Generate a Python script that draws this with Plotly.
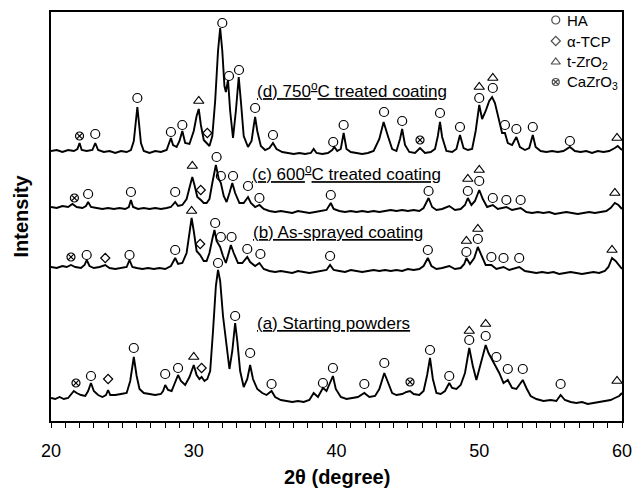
import plotly.graph_objects as go

# ---------------- data (2theta in degrees, intensity in arbitrary stacked units) -------------
d_theta = [20.0,20.4,20.8,21.2,21.6,21.85,22.0,22.15,22.5,22.9,23.1,23.3,23.7,24.1,24.5,24.9,25.3,25.6,25.8,25.95,26.05,26.15,26.3,26.5,26.9,27.3,27.7,28.1,28.3,28.4,28.55,28.8,29.0,29.2,29.4,29.7,30.0,30.2,30.35,30.5,30.7,30.9,31.1,31.3,31.5,31.7,31.85,32.0,32.15,32.25,32.4,32.55,32.75,32.95,33.15,33.3,33.5,33.8,34.05,34.2,34.3,34.45,34.7,35.0,35.3,35.55,35.8,36.2,36.6,37.0,37.4,37.8,38.2,38.4,38.6,39.0,39.4,39.7,39.85,40.05,40.3,40.5,40.7,41.0,41.4,41.8,42.2,42.6,43.0,43.3,43.6,43.9,44.2,44.45,44.6,44.8,45.1,45.5,45.85,46.2,46.6,46.9,47.1,47.25,47.4,47.7,48.1,48.4,48.65,48.9,49.2,49.5,49.75,50.0,50.2,50.45,50.7,50.9,51.1,51.4,51.6,51.8,52.0,52.3,52.6,52.85,53.2,53.5,53.75,53.95,54.3,54.7,55.1,55.5,55.9,56.35,56.7,57.1,57.5,57.9,58.3,58.7,59.1,59.5,59.7,60.0]
d_int = [270,271,269,271,270,272,278,271,270,271,278,271,269,270,268,270,269,271,280,300,314,300,278,270,268,270,269,271,278,283,276,274,280,290,278,277,290,305,312,296,281,278,275,285,320,370,393,370,335,329,341,310,283,310,344,320,285,274,280,295,304,290,275,271,273,278,272,269,268,267,268,267,268,272,268,267,268,271,274,270,272,288,272,269,268,267,268,270,282,299,285,272,270,282,292,276,269,268,273,268,269,272,285,299,284,270,269,272,286,273,271,272,290,316,302,310,320,324,318,300,288,288,278,276,284,274,271,273,286,274,270,269,270,269,270,274,270,269,270,268,270,269,270,273,275,271]

c_theta = [20.0,20.4,20.8,21.2,21.5,21.8,22.2,22.45,22.6,22.8,23.2,23.6,24.0,24.4,24.8,25.2,25.45,25.6,25.75,26.1,26.5,26.9,27.3,27.7,28.1,28.4,28.7,28.9,29.2,29.5,29.75,29.9,30.05,30.25,30.5,30.7,30.9,31.1,31.3,31.55,31.75,31.9,32.1,32.3,32.5,32.7,32.9,33.2,33.5,33.8,34.0,34.3,34.6,34.9,35.3,35.7,36.1,36.5,36.9,37.3,37.7,38.1,38.5,38.9,39.3,39.6,39.8,40.2,40.6,41.0,41.4,41.8,42.2,42.6,43.0,43.4,43.8,44.2,44.6,45.0,45.4,45.8,46.1,46.45,46.7,47.0,47.4,47.9,48.3,48.7,49.0,49.2,49.45,49.7,50.0,50.25,50.55,50.95,51.3,51.9,52.3,52.9,53.3,53.7,54.1,54.5,54.9,55.3,55.7,56.1,56.5,56.9,57.3,57.7,58.1,58.5,58.9,59.2,59.5,59.75,60.0]
c_int = [214,213,215,214,217,214,213,215,219,214,213,212,213,212,213,212,214,221,214,212,213,212,213,212,213,214,219,215,216,222,236,244,236,224,221,218,218,222,238,256,242,238,225,219,228,238,228,218,218,224,218,214,216,212,210,209,210,209,208,210,209,208,209,210,211,218,212,210,209,210,209,210,209,210,209,210,211,210,211,210,211,210,213,223,214,211,212,215,211,212,216,223,216,220,231,222,214,216,212,214,211,213,209,208,209,208,209,207,208,209,208,207,208,209,208,209,210,213,218,216,212]

b_theta = [20.0,20.4,20.8,21.1,21.4,21.7,22.1,22.35,22.5,22.7,23.0,23.4,23.8,24.1,24.5,24.9,25.3,25.5,25.7,26.0,26.4,26.8,27.2,27.6,28.0,28.4,28.7,28.9,29.2,29.5,29.7,29.85,30.0,30.2,30.45,30.7,30.9,31.1,31.3,31.45,31.6,31.85,32.05,32.25,32.45,32.6,32.8,33.1,33.4,33.75,33.95,34.3,34.6,34.9,35.3,35.7,36.1,36.5,36.9,37.3,37.7,38.1,38.5,38.9,39.3,39.55,39.8,40.2,40.6,41.0,41.4,41.8,42.2,42.6,43.0,43.4,43.8,44.2,44.6,45.0,45.4,45.8,46.1,46.4,46.65,47.0,47.4,47.9,48.3,48.7,48.95,49.1,49.35,49.65,49.9,50.15,50.45,50.85,51.2,51.7,52.1,52.8,53.2,53.6,54.0,54.4,54.8,55.2,55.6,56.0,56.4,56.8,57.2,57.6,58.0,58.4,58.8,59.05,59.3,59.55,59.8,60.0]
b_int = [154,153,155,154,156,154,153,156,161,155,153,154,156,153,152,153,154,161,154,153,152,153,152,153,152,155,163,157,158,168,190,203,190,170,166,160,160,168,182,191,180,174,165,158,168,176,168,158,158,164,159,155,158,152,150,149,150,149,148,150,149,148,149,150,151,156,151,150,149,151,150,149,150,151,150,151,150,151,150,152,151,152,155,163,155,152,153,155,152,153,157,163,157,163,174,165,156,156,152,154,151,154,150,149,148,149,148,149,147,148,149,148,147,148,149,148,150,154,163,160,155,152]

a_theta = [20.0,20.3,20.6,20.9,21.2,21.45,21.6,21.8,22.1,22.4,22.6,22.8,23.0,23.3,23.6,23.85,24.0,24.15,24.5,24.9,25.3,25.55,25.8,26.0,26.2,26.5,26.9,27.3,27.7,27.85,28.0,28.2,28.45,28.7,28.9,29.1,29.4,29.7,30.0,30.2,30.4,30.55,30.75,30.95,31.15,31.35,31.55,31.7,31.85,32.05,32.3,32.5,32.7,32.9,33.05,33.25,33.5,33.75,33.95,34.15,34.45,34.8,35.1,35.45,35.7,36.1,36.5,36.9,37.3,37.7,38.1,38.4,38.7,39.05,39.3,39.6,39.75,39.95,40.3,40.7,41.1,41.5,41.95,42.3,42.7,43.0,43.35,43.6,43.9,44.2,44.6,44.9,45.15,45.4,45.8,46.1,46.35,46.55,46.75,47.0,47.3,47.6,47.9,48.1,48.4,48.7,49.0,49.3,49.55,49.8,50.05,50.3,50.45,50.65,50.95,51.15,51.4,51.7,52.0,52.3,52.6,52.8,53.05,53.3,53.6,54.0,54.5,55.0,55.4,55.7,56.0,56.4,56.8,57.2,57.6,58.0,58.4,58.8,59.2,59.5,59.8,60.0]
a_int = [23,22,24,22,23,27,30,28,26,25,30,38,30,26,24,26,31,26,26,27,28,40,64,45,32,28,27,26,27,30,36,31,30,38,46,40,36,44,56,46,42,44,40,42,50,90,135,151,140,105,72,52,70,98,80,50,34,42,56,42,32,28,26,30,24,21,20,19,20,19,21,28,24,33,30,40,45,32,24,22,23,24,28,24,25,32,48,38,28,26,27,29,30,27,26,30,46,63,42,28,27,30,38,33,32,36,48,73,55,41,55,70,76,68,60,56,48,38,41,33,32,36,41,33,25,22,20,21,20,26,21,19,18,19,17,18,19,20,21,23,25,28]

# phase identification marks (2theta, height of the mark)
ha_theta = [23.1,26.05,28.4,29.2,32.0,32.47,33.17,34.3,35.55,39.77,40.5,43.33,44.6,47.25,48.65,50.0,50.95,51.8,52.6,53.75,56.35,
            22.6,25.6,28.7,31.6,31.9,32.75,33.8,34.6,39.6,46.45,49.2,50.0,50.95,51.9,52.9,
            22.5,25.5,28.7,31.5,31.9,32.65,33.75,34.67,39.55,46.4,49.1,49.9,50.85,51.7,52.8,
            22.8,25.8,28.0,28.9,31.7,32.9,33.95,35.45,39.05,39.75,41.95,43.35,46.55,47.9,49.3,50.45,51.2,52.0,53.05,55.7]
ha_h = [287,323,289,296,398,345,351,313,286,279,296,309,300,308,294,323,333,296,292,294,280,
        227,229,229,264,245,245,235,223,226,230,230,240,223,221,221,
        166,166,171,198,184,184,172,167,165,171,169,182,164,163,163,
        45,73,47,53,158,105,68,37,38,53,37,58,71,45,81,85,64,52,52,37]
tcp_theta = [30.95, 30.49, 23.8, 30.45, 24.0, 30.55]
tcp_h = [288, 231, 163, 177, 42, 53]
zro2_theta = [30.35,50.0,50.95,59.65, 29.9,49.2,50.0,59.5, 29.85,49.1,49.9,59.3, 30.0,49.3,50.45,59.65]
zro2_h = [320,334,343,283, 255,242,251,228, 210,180,192,171, 64,90,97,40]
cazro3_theta = [22.0, 45.85, 21.64, 21.4, 21.75, 45.15]
cazro3_h = [285, 281, 223, 164, 38, 39]

pattern_labels = ["(d) 750<sup>o</sup>C treated coating", "(c) 600<sup>o</sup>C treated coating",
                  "(b) As-sprayed coating", "(a) Starting powders"]
label_theta = [34.31, 33.92, 34.03, 34.27]
label_h = [331, 248, 189, 98]

legend_names = ["HA", "\u03b1-TCP", "t-ZrO<sub>2</sub>", "CaZrO<sub>3</sub>"]
legend_symbols = ["circle-open", "diamond-open", "triangle-up-open", "circle-x-open"]
legend_h = [401, 380, 359, 339]

FONT = "Liberation Sans, Arial, sans-serif"

fig = go.Figure()
for th, it in [(d_theta, d_int), (c_theta, c_int), (b_theta, b_int), (a_theta, a_int)]:
    fig.add_trace(go.Scatter(x=th, y=it, mode="lines", line=dict(color="black", width=1.9),
                             showlegend=False, hoverinfo="skip"))

mk = [(ha_theta, ha_h, "circle-open", 9),
      (tcp_theta, tcp_h, "diamond-open", 7),
      (zro2_theta, zro2_h, "triangle-up-open", 9),
      (cazro3_theta, cazro3_h, "circle-x-open", 8)]
for th, h, sym, sz in mk:
    fig.add_trace(go.Scatter(x=th, y=h, mode="markers",
                             marker=dict(symbol=sym, size=sz, color="black", line=dict(color="black", width=1.2)),
                             showlegend=False))

# legend box contents
fig.add_trace(go.Scatter(x=[55.36]*4, y=legend_h, mode="markers",
                         marker=dict(symbol=legend_symbols, size=[8, 7, 8, 7], color="black",
                                     line=dict(color="black", width=1.2)),
                         showlegend=False))
for name, h in zip(legend_names, legend_h):
    fig.add_annotation(x=56.0, y=h, text=name, showarrow=False, xanchor="left", yanchor="middle",
                       font=dict(family=FONT, size=15, color="black"))

for txt, th, h in zip(pattern_labels, label_theta, label_h):
    fig.add_annotation(x=th, y=h, text="<u>" + txt + "</u>", showarrow=False, xanchor="left",
                       yanchor="middle", font=dict(family=FONT, size=17, color="black"))

# axis titles
fig.add_annotation(xref="paper", yref="paper", x=0.5, y=-56/409, text="<b>2\u03b8 (degree)</b>",
                   showarrow=False, xanchor="center", yanchor="middle",
                   font=dict(family=FONT, size=20, color="black"))
fig.add_annotation(xref="paper", yref="paper", x=-31/571, y=0.5, text="<b>Intensity</b>", textangle=-90,
                   showarrow=False, xanchor="center", yanchor="middle",
                   font=dict(family=FONT, size=20, color="black"))

fig.update_layout(
    width=634, height=488,
    margin=dict(l=51, r=12, t=12, b=67, autoexpand=False),
    paper_bgcolor="white", plot_bgcolor="white",
    font=dict(family=FONT, color="black"),
    xaxis=dict(range=[20, 60], dtick=10, ticks="outside", ticklen=5, tickwidth=1, tickcolor="black",
               showline=True, linecolor="black", linewidth=1.5, mirror=True, showgrid=False, zeroline=False,
               tickfont=dict(size=18, family=FONT), ticklabelstandoff=8, automargin=False,
               minor=dict(dtick=1, ticks="outside", ticklen=5, tickcolor="black", tickwidth=1)),
    yaxis=dict(range=[0, 409], showticklabels=False, ticks="", showline=True, linecolor="black",
               linewidth=1.5, mirror=True, showgrid=False, zeroline=False, automargin=False),
)

fig.write_html("out.html", config={"displayModeBar": False},
               post_script="document.body.style.margin='0';")
